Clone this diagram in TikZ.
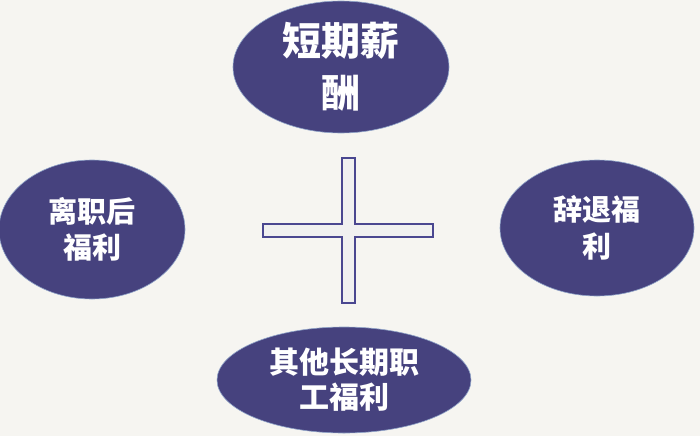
\documentclass[tikz,border=0pt]{standalone}
\usepackage{fontspec}
\usetikzlibrary{shapes.geometric}
\newfontfamily\cjk{Noto Sans CJK SC}
\definecolor{paper}{HTML}{F6F5F1}
\definecolor{bubble}{HTML}{46427E}
\definecolor{rim}{HTML}{8FA3C8}
\definecolor{crossline}{HTML}{4A4790}
\definecolor{crossfill}{HTML}{F0F0F0}
\tikzset{
    bubble/.style={ellipse, fill=bubble, draw=rim, line width=0.6pt, inner sep=0pt,
        text=white, align=center, font=\cjk\bfseries}
}
\begin{document}
\begin{tikzpicture}[x=1pt,y=-1pt]
    % background
    \fill[paper] (0,0) rectangle (700,436);
    \useasboundingbox (0,0) rectangle (700,436);

    % bubbles
    \node[bubble, minimum width=216pt, minimum height=132pt,
        font=\cjk\bfseries\fontsize{39}{52}\selectfont] (short) at (341,67) {短期薪\\酬};
    \node[bubble, minimum width=186pt, minimum height=139pt,
        font=\cjk\bfseries\fontsize{29}{36}\selectfont] (post) at (92,229.5) {离职后\\福利};
    \node[bubble, minimum width=194pt, minimum height=136pt,
        font=\cjk\bfseries\fontsize{29}{37}\selectfont] (dismiss) at (597,228) {辞退福\\利};
    \node[bubble, minimum width=254pt, minimum height=106pt,
        font=\cjk\bfseries\fontsize{30}{35}\selectfont] (other) at (344,380) {其他长期职\\工福利};

    % cross
    \draw[crossline, fill=crossfill, line width=1.2pt]
        (342,158) -- (355,158) -- (355,224) -- (433,224) -- (433,237) -- (355,237)
        -- (355,303) -- (342,303) -- (342,237) -- (263,237) -- (263,224) -- (342,224) -- cycle;
\end{tikzpicture}
\end{document}
